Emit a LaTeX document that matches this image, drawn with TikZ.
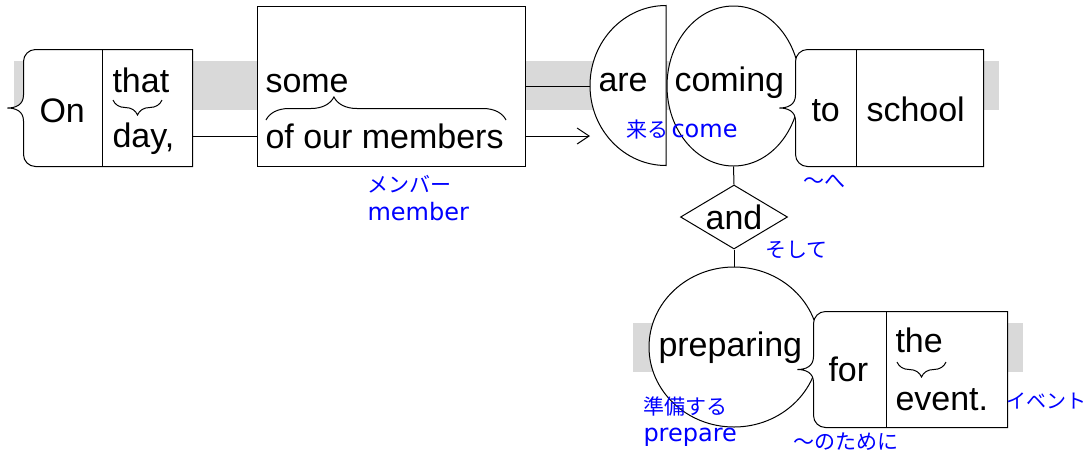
\documentclass[tikz,border=0pt]{standalone}
\usepackage{fontspec}
\setmainfont{Liberation Sans}
\newfontfamily\glossfont{DejaVu Sans}
\newfontfamily\jpfont{Noto Sans CJK JP}
\usetikzlibrary{shapes.geometric, positioning}
\usetikzlibrary{arrows.meta}
\usetikzlibrary{decorations.pathreplacing}

% box with a brace on its left side and one divider
\newcommand{\bracedframe}[2]{%
  \draw[fill=white] (#1.north east) -- ([xshift=12pt]#1.north west)
    arc[start angle=90, end angle=180, radius=12pt]
    -- ([yshift=13pt]#1.west)
    .. controls ([yshift=3pt]#1.west) and ([xshift=-8pt]#1.west) .. ([xshift=-16pt]#1.west)
    .. controls ([xshift=-8pt]#1.west) and ([yshift=-3pt]#1.west) .. ([yshift=-13pt]#1.west)
    -- ([yshift=12pt]#1.south west)
    arc[start angle=180, end angle=270, radius=12pt]
    -- (#1.south east) -- cycle;
  \draw ([xshift=#2]#1.north west) -- ([xshift=#2]#1.south west);}
\newcommand{\jp}[2][21]{{\jpfont\fontsize{#1}{26}\selectfont #2}}

\begin{document}
\begin{tikzpicture}[x=1pt, y=-1pt, line width=1pt,
  word/.style={anchor=base west, inner sep=0pt, font=\fontsize{34}{40}\selectfont},
  gloss/.style={anchor=base west, inner sep=0pt, text=blue, font=\glossfont\fontsize{24}{28}\selectfont},
  frame/.style={inner sep=0pt},
  bubble/.style={ellipse, draw, fill=white, inner sep=0pt},
  under/.style={decorate, decoration={brace, amplitude=15pt}}]
  \useasboundingbox (0,0) rectangle (1086,459);

  % gray bands
  \fill[gray!30] (14,61) rectangle (999,110);
  \fill[gray!30] (633,323) rectangle (1023,372);

  % top row
  \node[frame, minimum width=168pt, minimum height=116pt] (onbox) at (108,108) {};
  \bracedframe{onbox}{79pt}
  \node[draw, fill=white, inner sep=0pt, minimum width=268pt, minimum height=160pt] (somebox) at (391,86) {};
  \node[ellipse, inner sep=0pt, minimum width=152pt, minimum height=160pt] (are) at (666,86) {};
  \draw[fill=white] (are.north) arc[start angle=90, end angle=270, x radius=76pt, y radius=80pt] -- cycle;
  \node[bubble, minimum width=133pt, minimum height=160pt] (coming) at (733.5,86) {};
  \node[frame, minimum width=187pt, minimum height=116pt] (tobox) at (889.5,108) {};
  \bracedframe{tobox}{61pt}

  % conjunction and lower row
  \node[diamond, draw, fill=white, aspect=1.67, inner sep=0pt, minimum width=107pt,
    minimum height=64pt, font=\fontsize{34}{40}\selectfont] (and1) at (734,217) {and};
  \node[bubble, minimum width=170pt, minimum height=160pt] (preparing) at (734,347) {};
  \node[frame, minimum width=193pt, minimum height=115pt] (forbox) at (910.5,369.5) {};
  \bracedframe{forbox}{73pt}

  % connectors
  \coordinate (arrowtip) at (590,136);
  \draw ([yshift=-28pt]onbox.east) -- ([yshift=-28pt]onbox.east -| somebox.west);
  \draw (somebox.east) -- (are.west);
  \draw[-{Straight Barb[length=12pt,width=16pt]}] ([yshift=-50pt]somebox.east) -- (arrowtip);
  \draw (coming.south) -- (and1.north);
  \draw (and1.south) -- (preparing.north);

  % words
  \node[word] (on1) at (39,122) {On};
  \node[word] (that1) at (112,92) {that};
  \node[word] (day1) at (112,147) {day,};
  \draw[under] (162,100) -- (113,100);
  \node[word] (some1) at (265,92) {some};
  \node[word] (members1) at (265,148) {of our members};
  \draw[decorate, decoration={brace, amplitude=23pt, aspect=0.283}] (266,120) -- (506,120);
  \node[word] (are1) at (598,91) {are};
  \node[word] (coming1) at (674,91) {coming};
  \node[word] (to1) at (811,121) {to};
  \node[word] (school1) at (866,121) {school};
  \node[word] (preparing1) at (658,356) {preparing};
  \node[word] (for1) at (828,381) {for};
  \node[word] (the1) at (895,352) {the};
  \draw[under] (946,362) -- (897,362);
  \node[word] (event1) at (895,410) {event.};

  % glosses
  \node[gloss] (gmember) at (367,192) {\jp{メンバー}};
  \node[gloss] (gmember2) at (367,220) {member};
  \node[gloss] (gcome) at (626,137) {\jp{来る}\hspace{3pt}come};
  \node[gloss] (gto) at (803,188) {\jp{～へ}};
  \node[gloss] (gand) at (765,257) {\jp{そして}};
  \node[gloss] (gprepare) at (643,414) {\jp{準備する}};
  \node[gloss] (gprepare2) at (643,441) {prepare};
  \node[gloss] (gfor) at (793,449) {\jp{～のために}};
  \node[gloss] (gevent) at (1006,408) {\jp[20]{イベント}};
\end{tikzpicture}
\end{document}
